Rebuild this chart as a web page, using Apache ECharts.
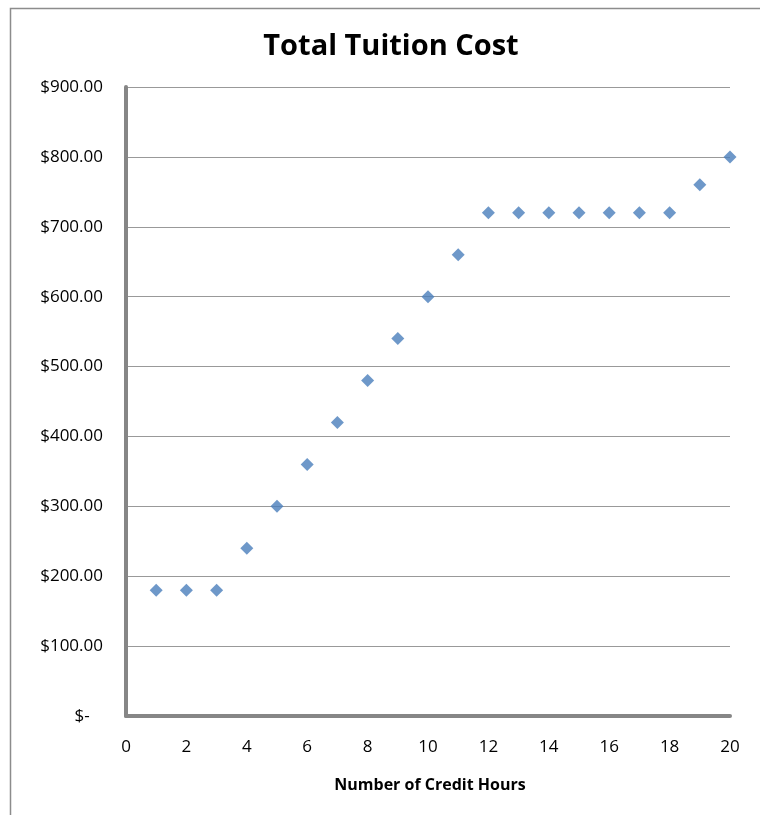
<!DOCTYPE html>
<html>
<head>
<meta charset="utf-8">
<script src="https://cdn.jsdelivr.net/npm/echarts@6/dist/echarts.min.js"></script>
<style>
html,body{margin:0;padding:0;background:#fff;}
#box{width:760px;height:815px;}
</style>
</head>
<body>
<div id="box"></div>
<script>
// credit hours and total cost
let hours = [1,2,3,4,5,6,7,8,9,10,11,12,13,14,15,16,17,18,19,20];
let cost = [180,180,180,240,300,360,420,480,540,600,660,720,720,720,720,720,720,720,760,800];
let xTicks = [0,2,4,6,8,10,12,14,16,18,20];

window.addEventListener('load', function () {
    let chart = echarts.init(document.getElementById('box'));
    let pts = hours.map((h, i) => [h, cost[i]]);
    let font = '"Open Sans", "Liberation Sans", sans-serif';

    let options = {
        backgroundColor: '#fff',
        animation: false,
        title: {
            text: 'Total Tuition Cost',
            left: 386, top: 27, textAlign: 'center',
            textStyle: {fontFamily: font, fontSize: 29, fontWeight: 'bold', color: '#000'}
        },
        graphic: [{
            type: 'rect',
            shape: {x: 10.5, y: 8.5, width: 760, height: 820},
            style: {fill: 'none', stroke: '#8c8c8c', lineWidth: 1.5},
            silent: true
        }],
        grid: {left: 126, right: 30, top: 87, bottom: 99},
        xAxis: {
            type: 'value',
            min: 0, max: 20, interval: 2,
            name: 'Number of Credit Hours',
            nameLocation: 'middle',
            nameGap: 61,
            nameTextStyle: {fontFamily: font, fontSize: 16, fontWeight: 'bold', color: '#000', padding: [0,0,0,4]},
            axisLine: {lineStyle: {color: '#868686', width: 4}},
            axisTick: {show: false},
            splitLine: {show: false},
            axisLabel: {
                fontFamily: font, fontSize: 17, color: '#000', margin: 23,
                formatter: v => xTicks.includes(v) ? String(v) : ''
            }
        },
        yAxis: {
            type: 'value',
            min: 0, max: 900, interval: 100,
            axisLine: {show: true, lineStyle: {color: '#868686', width: 4}},
            axisTick: {show: false},
            splitLine: {lineStyle: {color: '#999', width: 1}},
            axisLabel: {
                fontFamily: font, fontSize: 17, color: '#000', margin: 23,
                formatter: v => v === 0 ? '$-   ' : '$' + v.toFixed(2)
            }
        },
        series: [{
            type: 'scatter',
            symbol: 'diamond',
            symbolSize: 13,
            itemStyle: {color: '#4a7ebb'},
            data: pts
        }]
    };
    chart.setOption(options);
});
</script>
</body>
</html>
